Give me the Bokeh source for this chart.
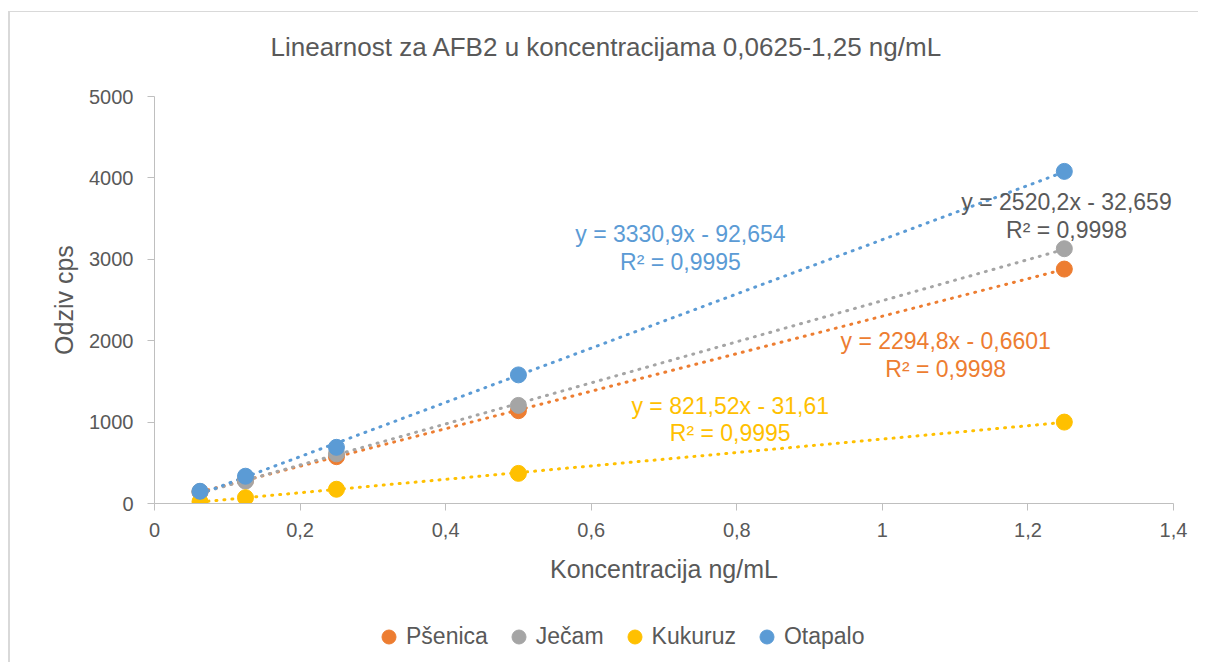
import numpy as np
from bokeh.plotting import figure
from bokeh.layouts import column
from bokeh.models import (Range1d, FixedTicker, CustomJSTickFormatter, Legend, LegendItem,
                          ColumnDataSource, Title)
from bokeh.core.properties import value
from bokeh.embed import file_html
from bokeh.resources import INLINE

# ---- data ----
concentrations = [0.0625, 0.125, 0.25, 0.5, 1.25]
psenica = [145, 285, 575, 1140, 2880]
jecam = [140, 275, 610, 1205, 3130]
kukuruz = [22, 72, 175, 370, 1000]
otapalo = [150, 335, 690, 1580, 4080]

series_names = ["Pšenica", "Ječam", "Kukuruz", "Otapalo"]
series_values = [psenica, jecam, kukuruz, otapalo]
colors = ["#ED7D31", "#A5A5A5", "#FFC000", "#5B9BD5"]
trend_labels = [
    ("y = 2294,8x - 0,6601", "R² = 0,9998"),
    ("y = 2520,2x - 32,659", "R² = 0,9998"),
    ("y = 821,52x - 31,61", "R² = 0,9995"),
    ("y = 3330,9x - 92,654", "R² = 0,9995"),
]
# label anchor positions (data coords) for the trendline equations
label_x = [1.087, 1.253, 0.791, 0.7226]
label_y = [(2002, 1658), (3710, 3366), (1192, 860), (3305, 2961)]

x_ticks = [0, 0.2, 0.4, 0.6, 0.8, 1.0, 1.2, 1.4]
y_ticks = [0, 1000, 2000, 3000, 4000, 5000]

FONT = "Liberation Sans"
TXT = "#595959"
W = 1188

# ---- title strip ----
p0 = figure(width=W, height=74, output_backend="svg", toolbar_location=None,
            x_range=Range1d(0, 1), y_range=Range1d(0, 1),
            min_border_left=144, min_border_right=25, min_border_top=0, min_border_bottom=0)
p0.axis.visible = False
p0.grid.grid_line_color = None
p0.outline_line_color = None
p0.border_fill_color = "white"
p0.add_layout(Title(text="Linearnost za AFB2 u koncentracijama 0,0625-1,25 ng/mL",
                    align="left", offset=116, standoff=34, text_font=FONT,
                    text_font_size="26px", text_font_style="normal", text_color=TXT),
              "above")

# ---- main chart ----
p = figure(width=W, height=516, output_backend="svg", toolbar_location=None,
           x_range=Range1d(0, 1.4), y_range=Range1d(0, 5000),
           min_border_left=144, min_border_right=25, min_border_top=10,
           min_border_bottom=99)
p.outline_line_color = None
p.grid.grid_line_color = None
p.background_fill_color = "white"
p.border_fill_color = "white"

for ax in (p.xaxis[0], p.yaxis[0]):
    ax.axis_line_color = "#BFBFBF"
    ax.major_tick_line_color = "#BFBFBF"
    ax.major_tick_out = 7
    ax.major_tick_in = 0
    ax.minor_tick_line_color = None
    ax.major_label_text_font = FONT
    ax.major_label_text_font_size = "20px"
    ax.major_label_text_color = TXT
    ax.axis_label_text_font = FONT
    ax.axis_label_text_font_size = "25px"
    ax.axis_label_text_font_style = "normal"
    ax.axis_label_text_color = TXT

p.xaxis.ticker = FixedTicker(ticks=x_ticks)
p.yaxis.ticker = FixedTicker(ticks=y_ticks)
p.xaxis.formatter = CustomJSTickFormatter(code="""
    let s = tick.toFixed(1);
    if (s.endsWith('.0')) s = s.slice(0, -2);
    return s.replace('.', ',');
""")
p.yaxis.formatter = CustomJSTickFormatter(code="return tick.toFixed(0);")
p.xaxis.axis_label = "Koncentracija ng/mL"
p.yaxis.axis_label = "Odziv cps"
p.xaxis.major_label_standoff = 12
p.xaxis.axis_label_standoff = 15
p.yaxis.major_label_standoff = 14
p.yaxis.axis_label_standoff = 8

xs = np.array(concentrations)
for vals, col in zip(series_values, colors):
    slope, icpt = np.polyfit(xs, np.array(vals, dtype=float), 1)
    tx = [xs.min(), xs.max()]
    ty = [slope * t + icpt for t in tx]
    p.line(tx, ty, line_color=col, line_width=3, line_dash="1 7", line_cap="round")

for name, vals, col in zip(series_names, series_values, colors):
    src = ColumnDataSource(dict(x=concentrations, y=vals))
    p.scatter("x", "y", source=src, size=16, fill_color=col, line_color=col)

for (l1, l2), lx, (ly1, ly2), col in zip(trend_labels, label_x, label_y, colors):
    c = TXT if col == "#A5A5A5" else col
    p.text(x=[lx, lx], y=[ly1, ly2], text=[l1, l2], text_align="center",
           text_baseline="middle", text_font=value(FONT), text_font_size="23px",
           text_color=c)

# ---- legend strip (separate small figure; proxy glyphs sit outside its range) ----
p2 = figure(width=W, height=60, output_backend="svg", toolbar_location=None,
            x_range=Range1d(0, 1), y_range=Range1d(0, 1),
            min_border_left=0, min_border_right=0, min_border_top=0, min_border_bottom=0)
p2.axis.visible = False
p2.grid.grid_line_color = None
p2.outline_line_color = None
p2.border_fill_color = "white"
items = []
for name, col in zip(series_names, colors):
    r = p2.scatter(x=[-5], y=[-5], size=16, fill_color=col, line_color=col)
    items.append(LegendItem(label=name, renderers=[r]))
legend = Legend(items=items, orientation="horizontal", location=(217, 8),
                glyph_width=35, glyph_height=35, label_standoff=-14, spacing=13,
                padding=0, margin=0, border_line_color=None, background_fill_alpha=0,
                label_text_font=FONT, label_text_font_size="23px", label_text_color=TXT)
p2.add_layout(legend, "center")

layout = column(p0, p, p2, spacing=0,
                styles={"border-left": "2px solid #d9d9d9", "border-top": "1px solid #d9d9d9",
                        "margin-left": "8px", "margin-top": "11px"})

open("out.html", "w").write(file_html(layout, INLINE))
